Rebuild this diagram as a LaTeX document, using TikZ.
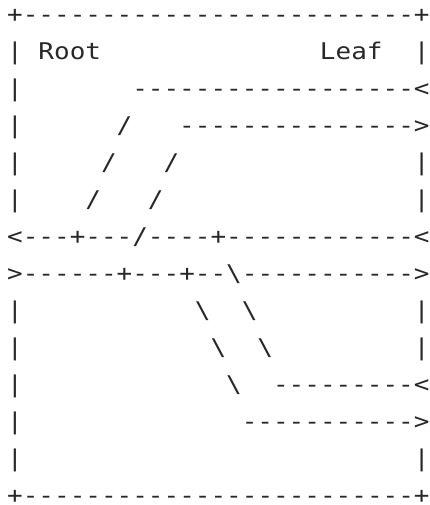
\documentclass[tikz,border=0pt]{standalone}
\usepackage{fontspec}
\newfontfamily\asciifont[FakeStretch=1.13,Ligatures=TeXOff]{DejaVu Sans Mono}
\definecolor{ink}{RGB}{40,40,40}
\tikzset{ascii/.style={anchor=base west,inner sep=0pt,outer sep=0pt,text=ink,
  font=\asciifont\fontsize{23pt}{23pt}\selectfont}}
\newcommand\asc[4]{\node[ascii] (#1) at ({7.18pt+15.64pt*#2},{-22.6pt-37pt*#3}) {#4};}
\begin{document}
\begin{tikzpicture}
\useasboundingbox (0,0) rectangle (430pt,-505pt);
\asc{r0}{0}{0}{+-------------------------+}
\asc{r1a}{0}{1}{|}
\asc{root}{2}{1}{Root}
\asc{leaf}{20}{1}{Leaf}
\asc{r1b}{26}{1}{|}
\asc{r2a}{0}{2}{|}
\asc{r2b}{8}{2}{------------------<}
\asc{r3a}{0}{3}{|}
\asc{r3b}{7}{3}{/}
\asc{r3c}{11}{3}{--------------->}
\asc{r4a}{0}{4}{|}
\asc{r4b}{6}{4}{/}
\asc{r4c}{10}{4}{/}
\asc{r4d}{26}{4}{|}
\asc{r5a}{0}{5}{|}
\asc{r5b}{5}{5}{/}
\asc{r5c}{9}{5}{/}
\asc{r5d}{26}{5}{|}
\asc{r6}{0}{6}{<---+---/----+------------<}
\asc{r7}{0}{7}{>------+---+--\textbackslash----------->}
\asc{r8a}{0}{8}{|}
\asc{r8b}{12}{8}{\textbackslash}
\asc{r8c}{15}{8}{\textbackslash}
\asc{r8d}{26}{8}{|}
\asc{r9a}{0}{9}{|}
\asc{r9b}{13}{9}{\textbackslash}
\asc{r9c}{16}{9}{\textbackslash}
\asc{r9d}{26}{9}{|}
\asc{r10a}{0}{10}{|}
\asc{r10b}{14}{10}{\textbackslash}
\asc{r10c}{17}{10}{---------<}
\asc{r11a}{0}{11}{|}
\asc{r11b}{15}{11}{----------->}
\asc{r12a}{0}{12}{|}
\asc{r12b}{26}{12}{|}
\asc{r13}{0}{13}{+-------------------------+}
\end{tikzpicture}
\end{document}
